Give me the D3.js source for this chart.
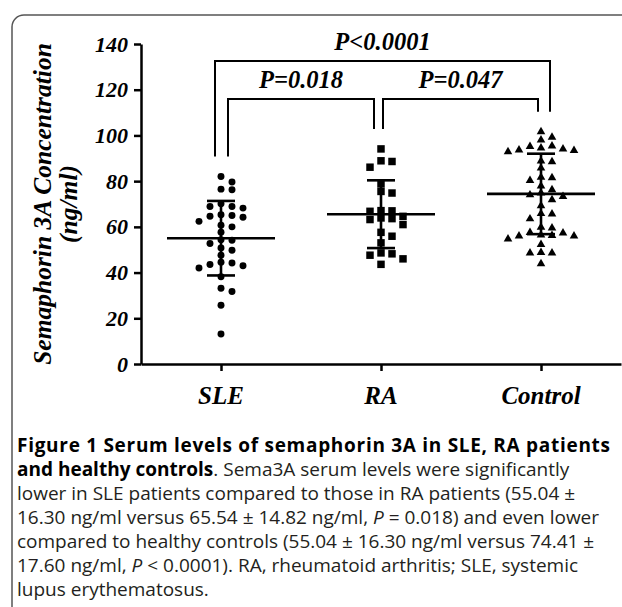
<!DOCTYPE html>
<html>
<head>
<meta charset="utf-8">
<script src="https://d3js.org/d3.v7.min.js"></script>
<style>
  body { margin: 0; background: #fff; }
  svg { display: block; }
  .serif { font-family: "Liberation Serif", "Times New Roman", serif; font-weight: bold; font-style: italic; fill: #000; }
  .caption { font-family: "Open Sans", sans-serif; font-size: 19px; fill: #231f20; }
</style>
</head>
<body>
<svg width="622" height="607"></svg>
<script>
// groups and values
var groups = ["SLE", "RA", "Control"];
var sleValues = [82.0, 79.6, 76.5, 76.2, 70.1, 68.9, 68.9, 68.2, 65.3, 65.0, 64.6, 64.2, 62.4,
  60.7, 60.0, 57.6, 54.4, 54.1, 52.7, 50.8, 49.8, 47.6, 44.5, 44.2, 43.5, 43.0, 42.0,
  38.2, 33.1, 31.7, 25.7, 13.1];
var raValues = [94.1, 88.9, 88.6, 86.1, 78.8, 75.5, 74.8, 67.1, 67.0, 66.8, 64.6, 63.9, 63.6, 63.2,
  61.0, 57.6, 55.9, 53.0, 48.6, 48.2, 47.6, 46.0, 43.6];
var controlValues = [101.6, 99.2, 98.0, 95.4, 95.2, 94.5, 94.1, 93.6, 93.4, 92.9, 88.8, 88.5, 85.7,
  81.7, 81.5, 80.3, 77.9, 76.2, 74.8, 74.0, 73.3, 71.9, 69.2, 65.8, 65.6, 63.5,
  59.8, 59.5, 57.5, 57.3, 56.4, 56.2, 56.0, 56.0, 54.7, 52.3, 48.8, 48.6, 48.6, 43.9];
var means = [55.04, 65.54, 74.41];
var sds = [16.30, 14.82, 17.60];
var yTicks = [0, 20, 40, 60, 80, 100, 120, 140];
var pLabels = ["P<0.0001", "P=0.018", "P=0.047"];

var svg = d3.select("svg");

// rounded frame around the figure (cut off at the right / bottom)
svg.append("rect")
  .attr("x", 12).attr("y", 15)
  .attr("width", 700).attr("height", 700)
  .attr("rx", 12)
  .attr("fill", "none")
  .attr("stroke", "#555")
  .attr("stroke-width", 1.5);

var x = d3.scalePoint().domain(groups).range([141, 621]).padding(0.5);
var y = d3.scaleLinear().domain([0, 140]).range([364, 44]);

// axes
var yAxis = svg.append("g")
  .attr("transform", "translate(141,0)")
  .call(d3.axisLeft(y).tickValues(yTicks).tickSize(7).tickPadding(6).tickSizeOuter(0));
var xAxis = svg.append("g")
  .attr("transform", "translate(0,364)")
  .call(d3.axisBottom(x).tickSize(7).tickSizeOuter(0).tickFormat(""));

svg.selectAll(".domain, .tick line")
  .attr("stroke", "#000")
  .attr("stroke-width", 2.5);
yAxis.selectAll("text")
  .attr("class", "serif")
  .style("font-size", "22px");

svg.selectAll(".cat")
  .data(groups)
  .enter().append("text")
  .attr("class", "serif")
  .attr("x", function (d) { return x(d); })
  .attr("y", 404)
  .attr("text-anchor", "middle")
  .style("font-size", "25px")
  .text(function (d) { return d; });

// y title
var yt = svg.append("text")
  .attr("class", "serif")
  .attr("transform", "translate(0,204) rotate(-90)")
  .attr("text-anchor", "middle")
  .style("font-size", "25.5px");
yt.append("tspan").attr("x", 0).attr("y", 51).text("Semaphorin 3A Concentration");
yt.append("tspan").attr("x", 0).attr("y", 77).text("(ng/ml)");

// simple column swarm
function swarm(values, minGap) {
  var placed = [];
  var order = [0, 1, -1, 2, -2, 3, -3, 4, -4, 5, -5];
  values.slice().sort(d3.descending).forEach(function (v) {
    var py = y(v), col = 0;
    for (var i = 0; i < order.length; i++) {
      col = order[i];
      var hit = placed.some(function (p) { return p.col === col && Math.abs(p.py - py) < minGap; });
      if (!hit) break;
    }
    placed.push({ value: v, col: col, py: py });
  });
  return placed;
}

var step = 11;
var series = [
  { name: "SLE", values: sleValues, type: d3.symbolCircle, size: 38 },
  { name: "RA", values: raValues, type: d3.symbolSquare, size: 56 },
  { name: "Control", values: controlValues, type: d3.symbolTriangle, size: 32 }
];

series.forEach(function (s) {
  svg.append("g").selectAll("path")
    .data(swarm(s.values, 7))
    .enter().append("path")
    .attr("d", d3.symbol().type(s.type).size(s.size))
    .attr("transform", function (d) {
      return "translate(" + (x(s.name) + d.col * step) + "," + d.py + ")";
    })
    .attr("fill", "#000");
});

// mean and SD bars
var bars = svg.append("g").attr("stroke", "#000").attr("stroke-width", 2.6);
groups.forEach(function (g, i) {
  var cx = x(g);
  bars.append("line").attr("x1", cx - 54).attr("x2", cx + 54)
    .attr("y1", y(means[i])).attr("y2", y(means[i]));
  bars.append("line").attr("x1", cx).attr("x2", cx)
    .attr("y1", y(means[i] + sds[i])).attr("y2", y(means[i] - sds[i]));
  [1, -1].forEach(function (k) {
    bars.append("line").attr("x1", cx - 14).attr("x2", cx + 14)
      .attr("y1", y(means[i] + k * sds[i])).attr("y2", y(means[i] + k * sds[i]));
  });
});

// significance brackets
var groupMax = [d3.max(sleValues), d3.max(raValues), d3.max(controlValues)];
var brackets = [
  { a: 0, b: 2, label: pLabels[0], top: 61, da: -6, db: 9 },
  { a: 0, b: 1, label: pLabels[1], top: 99, da: 7, db: -7 },
  { a: 1, b: 2, label: pLabels[2], top: 99, da: 2, db: -3 }
];
brackets.forEach(function (b) {
  var xa = x(groups[b.a]) + b.da, xb = x(groups[b.b]) + b.db;
  var ya = y(groupMax[b.a]) - 20, yb = y(groupMax[b.b]) - 20;
  svg.append("path")
    .attr("d", "M" + xa + "," + ya + "V" + b.top + "H" + xb + "V" + yb)
    .attr("fill", "none")
    .attr("stroke", "#000")
    .attr("stroke-width", 2);
  svg.append("text")
    .attr("class", "serif")
    .attr("x", (xa + xb) / 2)
    .attr("y", b.top - 11)
    .attr("text-anchor", "middle")
    .style("font-size", "24.5px")
    .text(b.label);
});

// caption
var capLines = [
  [["b", "Figure 1 Serum levels of semaphorin 3A in SLE, RA patients"]],
  [["b", "and healthy controls"], ["", ". Sema3A serum levels were significantly"]],
  [["", "lower in SLE patients compared to those in RA patients (55.04 \u00b1"]],
  [["", "16.30 ng/ml versus 65.54 \u00b1 14.82 ng/ml, "], ["i", "P"], ["", " = 0.018) and even lower"]],
  [["", "compared to healthy controls (55.04 \u00b1 16.30 ng/ml versus 74.41 \u00b1"]],
  [["", "17.60 ng/ml, "], ["i", "P"], ["", " < 0.0001). RA, rheumatoid arthritis; SLE, systemic"]],
  [["", "lupus erythematosus."]]
];
capLines.forEach(function (line, i) {
  var row = svg.append("text").attr("class", "caption")
    .attr("x", 17).attr("y", 452 + i * 24);
  // the bold heading line runs the full width of the panel
  if (i === 0) row.attr("textLength", 593).attr("lengthAdjust", "spacing");
  line.forEach(function (part) {
    var t = row.append("tspan").text(part[1]);
    if (part[0] === "b") t.style("font-weight", "bold").style("fill", "#000");
    if (part[0] === "i") t.style("font-style", "italic");
  });
});
</script>
</body>
</html>
